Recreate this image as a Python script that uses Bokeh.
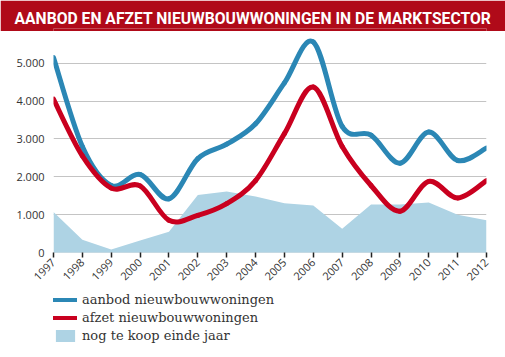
from bokeh.plotting import figure
from bokeh.models import (Range1d, FixedTicker, Legend, LegendItem, ColumnDataSource)
from bokeh.layouts import column
from bokeh.embed import file_html
from bokeh.resources import INLINE
import math

# ---- data -------------------------------------------------------------
title_text = "AANBOD EN AFZET NIEUWBOUWWONINGEN IN DE MARKTSECTOR"
years = [1997, 1998, 1999, 2000, 2001, 2002, 2003, 2004,
         2005, 2006, 2007, 2008, 2009, 2010, 2011, 2012]
aanbod = [5150, 2800, 1770, 2060, 1420, 2480, 2860, 3400,
          4480, 5560, 3330, 3100, 2360, 3180, 2430, 2760]
afzet = [4050, 2550, 1700, 1760, 850, 980, 1290, 1900,
         3140, 4370, 2800, 1770, 1090, 1880, 1440, 1900]
te_koop = [1070, 335, 80, 320, 550, 1520, 1610, 1480,
           1300, 1240, 630, 1270, 1270, 1320, 1000, 850]
y_ticks = [0, 1000, 2000, 3000, 4000, 5000]
y_tick_labels = ["0", "1.000", "2.000", "3.000", "4.000", "5.000"]
series_labels = ["aanbod nieuwbouwwoningen", "afzet nieuwbouwwoningen",
                 "nog te koop einde jaar"]

BLUE = "#2b87b5"
RED = "#c9001f"
AREA = "#aed3e4"
TITLE_BG = "#b00a19"
TEXT = "#333333"
LEFT, RIGHT = 53, 19


def smooth_segments(xs, ys):
    """Cubic Bezier segments through the data points (Catmull-Rom style)."""
    n = len(xs)
    d = dict(x0=[], y0=[], x1=[], y1=[], cx0=[], cy0=[], cx1=[], cy1=[])
    for i in range(n - 1):
        xp, yp = (xs[i - 1], ys[i - 1]) if i > 0 else (xs[i], ys[i])
        xn2, yn2 = (xs[i + 2], ys[i + 2]) if i + 2 < n else (xs[i + 1], ys[i + 1])
        d["x0"].append(xs[i]); d["y0"].append(ys[i])
        d["x1"].append(xs[i + 1]); d["y1"].append(ys[i + 1])
        d["cx0"].append(xs[i] + (xs[i + 1] - xp) / 6)
        d["cy0"].append(ys[i] + (ys[i + 1] - yp) / 6)
        d["cx1"].append(xs[i + 1] - (xn2 - xs[i]) / 6)
        d["cy1"].append(ys[i + 1] - (yn2 - ys[i]) / 6)
    return ColumnDataSource(d)


# ---- title bar (a thin figure whose title is the chart title) ---------
tf = figure(width=505, height=31, x_range=Range1d(0, 1), y_range=Range1d(0, 1),
            x_axis_type=None, y_axis_type=None,
            min_border_left=LEFT, min_border_right=RIGHT,
            min_border_top=28, min_border_bottom=0,
            output_backend="svg", toolbar_location=None)
tf.outline_line_color = None
tf.grid.grid_line_color = None
tf.background_fill_color = TITLE_BG
tf.border_fill_color = TITLE_BG
tf.title.text = title_text
tf.title.align = "left"
tf.title.offset = 14 - LEFT
tf.title.standoff = 2
tf.title.text_color = "white"
tf.title.text_font = "Roboto"
tf.title.text_font_style = "bold"
tf.title.text_font_size = "15.7px"

# ---- main chart -------------------------------------------------------
p = figure(width=505, height=260,
           x_range=Range1d(1997, 2012), y_range=Range1d(0, 5705),
           min_border_left=LEFT, min_border_right=RIGHT,
           min_border_top=5, min_border_bottom=39,
           output_backend="svg", toolbar_location=None)
p.outline_line_color = None
p.background_fill_color = "white"
p.border_fill_color = "white"

p.xgrid.grid_line_color = None
p.ygrid.ticker = FixedTicker(ticks=y_ticks)
p.ygrid.grid_line_color = "#c4c4c4"
p.ygrid.grid_line_width = 1

p.varea(x=years, y1=[0] * len(years), y2=te_koop, fill_color=AREA)
p.bezier(x0="x0", y0="y0", x1="x1", y1="y1", cx0="cx0", cy0="cy0",
         cx1="cx1", cy1="cy1", source=smooth_segments(years, aanbod),
         line_color=BLUE, line_width=5, line_cap="round")
p.bezier(x0="x0", y0="y0", x1="x1", y1="y1", cx0="cx0", cy0="cy0",
         cx1="cx1", cy1="cy1", source=smooth_segments(years, afzet),
         line_color=RED, line_width=5, line_cap="round")

xa = p.xaxis[0]
xa.ticker = FixedTicker(ticks=years)
xa.axis_line_color = "#c4d9e3"
xa.axis_line_width = 1
xa.major_tick_line_color = "#222222"
xa.major_tick_line_width = 1.5
xa.major_tick_in = 0
xa.major_tick_out = 5
xa.minor_tick_line_color = None
xa.major_label_orientation = math.pi / 4
xa.major_label_text_font = "Open Sans"
xa.major_label_text_font_size = "11px"
xa.major_label_text_color = TEXT
xa.major_label_standoff = 3

ya = p.yaxis[0]
ya.ticker = FixedTicker(ticks=y_ticks)
ya.major_label_overrides = dict(zip(y_ticks, y_tick_labels))
ya.axis_line_color = None
ya.major_tick_line_color = None
ya.minor_tick_line_color = None
ya.major_tick_out = 0
ya.major_tick_in = 0
ya.major_label_text_font = "Open Sans"
ya.major_label_text_font_size = "11px"
ya.major_label_text_color = TEXT
ya.major_label_standoff = 9

# ---- legend strip -----------------------------------------------------
lf = figure(width=505, height=66, x_range=Range1d(0, 1), y_range=Range1d(0, 1),
            x_axis_type=None, y_axis_type=None,
            min_border_left=LEFT, min_border_right=RIGHT,
            min_border_top=0, min_border_bottom=0,
            output_backend="svg", toolbar_location=None)
lf.outline_line_color = None
lf.grid.grid_line_color = None
lf.background_fill_color = "white"
lf.border_fill_color = "white"
# hidden stand-ins that only supply the legend swatches
k_blue = lf.line(x=years, y=aanbod, line_color=BLUE, line_width=4,
                 line_cap="round", visible=False)
k_red = lf.line(x=years, y=afzet, line_color=RED, line_width=4,
                line_cap="round", visible=False)
k_area = lf.varea(x=years, y1=[0] * len(years), y2=te_koop,
                  fill_color=AREA, visible=False)
legend = Legend(items=[
    LegendItem(label=series_labels[0], renderers=[k_blue]),
    LegendItem(label=series_labels[1], renderers=[k_red]),
    LegendItem(label=series_labels[2], renderers=[k_area]),
], location=(0, 14), orientation="vertical")
legend.padding = 0
legend.margin = 0
legend.spacing = 3
legend.glyph_width = 24
legend.glyph_height = 15
legend.label_height = 15
legend.label_standoff = 5
legend.border_line_color = None
legend.background_fill_alpha = 0
legend.inactive_fill_alpha = 0
legend.label_text_font = "DejaVu Serif"
legend.label_text_font_size = "13px"
legend.label_text_color = TEXT
lf.add_layout(legend)

layout = column(tf, p, lf, spacing=0)
open("out.html", "w").write(file_html(layout, INLINE))
